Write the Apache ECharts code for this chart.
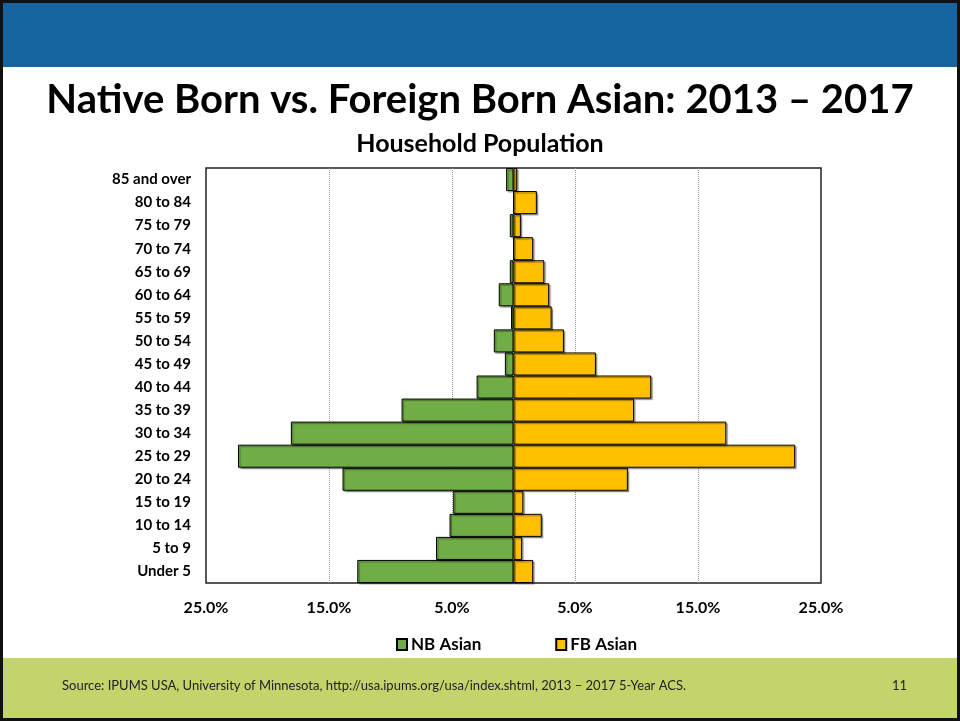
<!DOCTYPE html>
<html>
<head>
<meta charset="utf-8">
<script src="https://cdn.jsdelivr.net/npm/echarts@6/dist/echarts.min.js"></script>
<style>
  html, body { margin: 0; padding: 0; background: #fff; }
  #main { width: 960px; height: 721px; }
</style>
</head>
<body>
<div id="main"></div>
<script>
// age groups, bottom to top
const ageGroups = ['Under 5', '5 to 9', '10 to 14', '15 to 19', '20 to 24', '25 to 29', '30 to 34',
  '35 to 39', '40 to 44', '45 to 49', '50 to 54', '55 to 59', '60 to 64', '65 to 69',
  '70 to 74', '75 to 79', '80 to 84', '85 and over']
// percent of household population
const nbAsian = [12.7, 6.3, 5.2, 4.9, 13.9, 22.4, 18.1, 9.1, 3.0, 0.7, 1.6, 0.2, 1.2, 0.3, 0.0, 0.3, 0.0, 0.6]
const fbAsian = [1.6, 0.7, 2.3, 0.8, 9.3, 22.9, 17.3, 9.8, 11.2, 6.7, 4.1, 3.1, 2.9, 2.5, 1.6, 0.6, 1.9, 0.3]
const xTicks = [-25, -15, -5, 5, 15, 25]

const font = 'Lato, "Noto Sans", sans-serif'
const chart = echarts.init(document.getElementById('main'))

const barStyle = (color) => ({
  color: color,
  borderColor: '#000',
  borderWidth: 1,
  shadowColor: 'rgba(0,0,0,0.35)',
  shadowOffsetX: 1.5,
  shadowOffsetY: 1.5,
  shadowBlur: 1
})

chart.setOption({
  animation: false,
  textStyle: { fontFamily: font },
  graphic: [
    { type: 'rect', shape: { x: 0, y: 0, width: 960, height: 67 }, style: { fill: '#1765A0' }, z: 0 },
    { type: 'rect', shape: { x: 0, y: 658, width: 960, height: 63 }, style: { fill: '#C5D36B' }, z: 0 },
    { type: 'rect', shape: { x: 1.5, y: 1.5, width: 957, height: 718 }, style: { fill: null, stroke: '#111', lineWidth: 3 }, z: 10 },
    {
      type: 'text', left: 62, top: 679,
      style: { text: 'Source: IPUMS USA, University of Minnesota, http://usa.ipums.org/usa/index.shtml, 2013 – 2017 5-Year ACS.', font: '13px ' + font, fill: '#222' }
    },
    { type: 'text', left: 892, top: 679, style: { text: '11', font: '13px ' + font, fill: '#222' } }
  ],
  title: [
    {
      text: 'Native Born vs. Foreign Born Asian: 2013 – 2017',
      left: 'center', top: 75,
      textStyle: { fontSize: 40, fontWeight: 'bold', color: '#000', fontFamily: font }
    },
    {
      text: 'Household Population',
      left: 'center', top: 126,
      textStyle: { fontSize: 25, fontWeight: 'bold', color: '#000', fontFamily: font }
    }
  ],
  legend: {
    left: 391, top: 631,
    itemWidth: 10, itemHeight: 11, itemGap: 74,
    icon: 'rect',
    textStyle: { fontSize: 17, fontWeight: 'bold', color: '#000', padding: [0, 0, 0, -1] },
    data: ['NB Asian', 'FB Asian']
  },
  grid: {
    left: 206, right: 139, top: 168, bottom: 138,
    show: true, borderColor: '#222', borderWidth: 1.5, backgroundColor: '#fff'
  },
  xAxis: {
    type: 'value', min: -25, max: 25, interval: 10,
    axisLine: { show: false }, axisTick: { show: false },
    axisLabel: {
      margin: 17, fontSize: 16, fontWeight: 'bold', color: '#000',
      formatter: (v) => xTicks.includes(v) ? Math.abs(v).toFixed(1) + '%' : ''
    },
    splitLine: { show: true, showMinLine: false, showMaxLine: false, lineStyle: { color: '#999', type: 'dotted', width: 1 } }
  },
  yAxis: {
    type: 'category', data: ageGroups,
    axisLine: { show: false, onZero: false }, axisTick: { show: false },
    axisLabel: { margin: 15, fontSize: 15, fontWeight: 'bold', color: '#000' }
  },
  series: [
    {
      name: 'NB Asian', type: 'bar', stack: 'pop', barCategoryGap: 0,
      data: nbAsian.map(v => -v), itemStyle: barStyle('#70AD47')
    },
    {
      name: 'FB Asian', type: 'bar', stack: 'pop', barCategoryGap: 0,
      data: fbAsian, itemStyle: barStyle('#FFC000')
    }
  ]
})
</script>
</body>
</html>
